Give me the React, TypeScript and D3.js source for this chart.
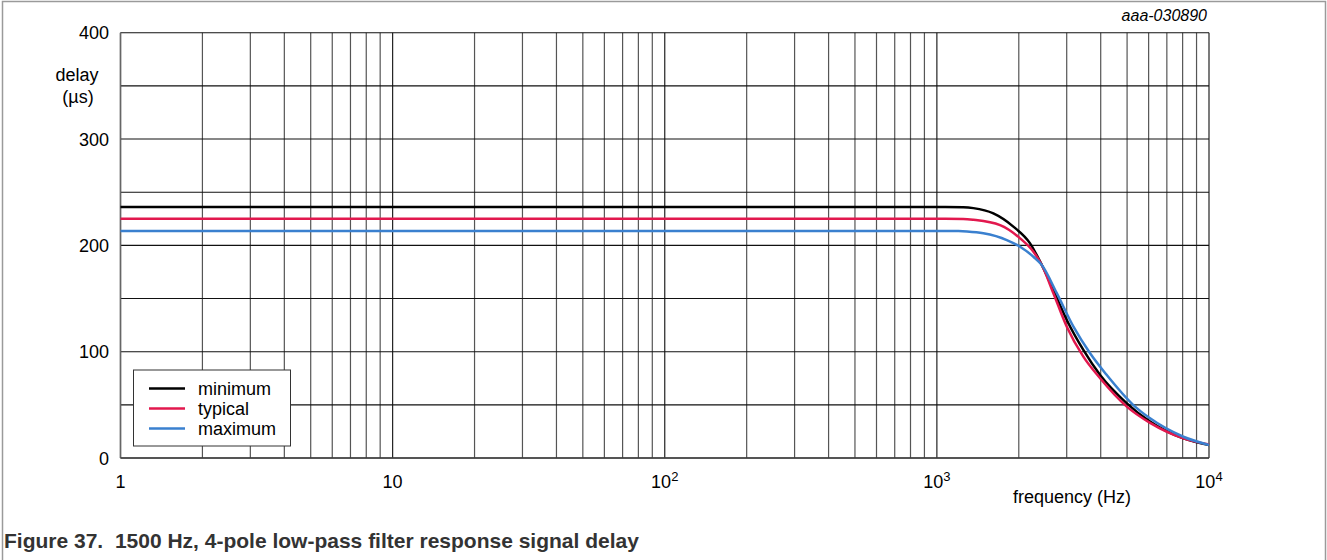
import React from "react";
import * as d3 from "d3";

const yTicks = [0, 100, 200, 300, 400];
const yGrid = [0, 50, 100, 150, 200, 250, 300, 350, 400];
const xDecades = [1, 10, 100, 1000, 10000];
const xTickLabels = [
  { base: "1", exp: "" },
  { base: "10", exp: "" },
  { base: "10", exp: "2" },
  { base: "10", exp: "3" },
  { base: "10", exp: "4" },
];

const minimumFreq = [1, 10, 100, 1000, 1250, 1362, 1613, 1910, 2200, 2430, 2680, 3002, 3453, 3980, 4989, 6074, 8050, 10000];
const minimumDelay = [236, 236, 236, 236, 235.8, 235, 230, 217.6, 201.9, 181.5, 158, 129.8, 101.6, 78, 51.4, 34.2, 18.5, 12.2];

const typicalFreq = [1, 10, 100, 1000, 1250, 1362, 1707, 2022, 2263, 2430, 2680, 3002, 3453, 3980, 4989, 6074, 8050, 10000];
const typicalDelay = [225, 225, 225, 225, 224.8, 224, 219, 206.6, 194, 181.5, 155, 123.5, 95.3, 75, 48.3, 33, 18.5, 12.8];

const maximumFreq = [1, 10, 100, 1000, 1200, 1291, 1482, 1807, 2022, 2263, 2430, 2758, 3176, 3656, 4211, 5273, 6074, 8050, 10000];
const maximumDelay = [213.5, 213.5, 213.5, 213.5, 213.4, 213, 211.3, 205, 198.7, 189.3, 181.5, 155, 123.5, 98.5, 78, 49.8, 37.3, 20, 12.2];

const seriesNames = ["minimum", "typical", "maximum"];
const seriesColors = ["#000000", "#e2184e", "#3a80cf"];

export default function App() {
  const W = 1327;
  const H = 560;
  const left = 120.5;
  const right = 1209;
  const top = 32.7;
  const bottom = 458;
  const font = "'Liberation Sans', Arial, sans-serif";

  const x = d3.scaleLog().domain([1, 10000]).range([left, right]);
  const y = d3.scaleLinear().domain([0, 400]).range([bottom, top]);

  const minorX: number[] = [];
  for (let d = 1; d < 10000; d *= 10) {
    for (let k = 2; k <= 9; k++) minorX.push(d * k);
  }

  const series = [
    { f: minimumFreq, v: minimumDelay },
    { f: typicalFreq, v: typicalDelay },
    { f: maximumFreq, v: maximumDelay },
  ];

  const line = d3
    .line<[number, number]>()
    .x((d) => x(d[0]))
    .y((d) => y(d[1]))
    .curve(d3.curveMonotoneX);

  const legendX = 133.5;
  const legendY = 370;

  return (
    <svg
      width={W}
      height={H}
      style={{ position: "absolute", left: 0, top: 0, background: "#fff" }}
      fontFamily={font}
    >
      <rect x={0} y={0} width={W} height={H} fill="#fff" />
      <rect x={2.5} y={1.5} width={1323} height={H + 10} fill="none" stroke="#9a9a9a" strokeWidth={1.5} />

      {/* grid */}
      {minorX.map((f) => (
        <line key={"mx" + f} x1={x(f)} x2={x(f)} y1={top} y2={bottom} stroke="#555" strokeWidth={1.2} />
      ))}
      {xDecades.map((f) => (
        <line key={"dx" + f} x1={x(f)} x2={x(f)} y1={top} y2={bottom} stroke="#222" strokeWidth={1.2} />
      ))}
      {yGrid.map((v) => (
        <line key={"gy" + v} x1={left} x2={right} y1={y(v)} y2={y(v)} stroke="#111" strokeWidth={1.1} />
      ))}
      <line x1={left} x2={left} y1={top} y2={bottom} stroke="#666" strokeWidth={1.5} />
      <line x1={left} x2={right} y1={bottom} y2={bottom} stroke="#444" strokeWidth={1.5} />

      {/* curves */}
      {series.map((s, i) => (
        <path
          key={"s" + i}
          d={line(s.f.map((f, j) => [f, s.v[j]] as [number, number])) || ""}
          fill="none"
          stroke={seriesColors[i]}
          strokeWidth={2.5}
        />
      ))}

      {/* y tick labels */}
      {yTicks.map((v) => (
        <text key={"yt" + v} x={109} y={y(v) + 6.5} textAnchor="end" fontSize={18} fill="#000">
          {v}
        </text>
      ))}
      <text x={77} y={81} textAnchor="middle" fontSize={18} fill="#000">delay</text>
      <text x={78} y={103} textAnchor="middle" fontSize={18} fill="#000">(µs)</text>

      {/* x tick labels */}
      {xDecades.map((f, i) => (
        <text key={"xt" + f} x={x(f)} y={488} textAnchor="middle" fontSize={18} fill="#000">
          {xTickLabels[i].base}
          {xTickLabels[i].exp && (
            <tspan dy={-7} fontSize={13}>
              {xTickLabels[i].exp}
            </tspan>
          )}
        </text>
      ))}
      <text x={1013} y={503} fontSize={18} fill="#000">frequency (Hz)</text>

      <text x={1207} y={21} textAnchor="end" fontSize={16} fontStyle="italic" fill="#000">aaa-030890</text>

      {/* legend */}
      <rect x={legendX} y={legendY} width={157} height={76} fill="#fff" stroke="#333" strokeWidth={1} />
      {seriesNames.map((n, i) => (
        <g key={"lg" + n}>
          <line
            x1={149}
            x2={185}
            y1={388.5 + i * 20}
            y2={388.5 + i * 20}
            stroke={seriesColors[i]}
            strokeWidth={2.5}
          />
          <text x={198} y={395 + i * 20} fontSize={18} fill="#000">{n}</text>
        </g>
      ))}

      {/* caption */}
      <text x={4} y={548} fontSize={21} fontWeight="bold" fill="#333">
        Figure 37.{"\u00a0\u00a0"}1500 Hz, 4-pole low-pass filter response signal delay
      </text>
    </svg>
  );
}
